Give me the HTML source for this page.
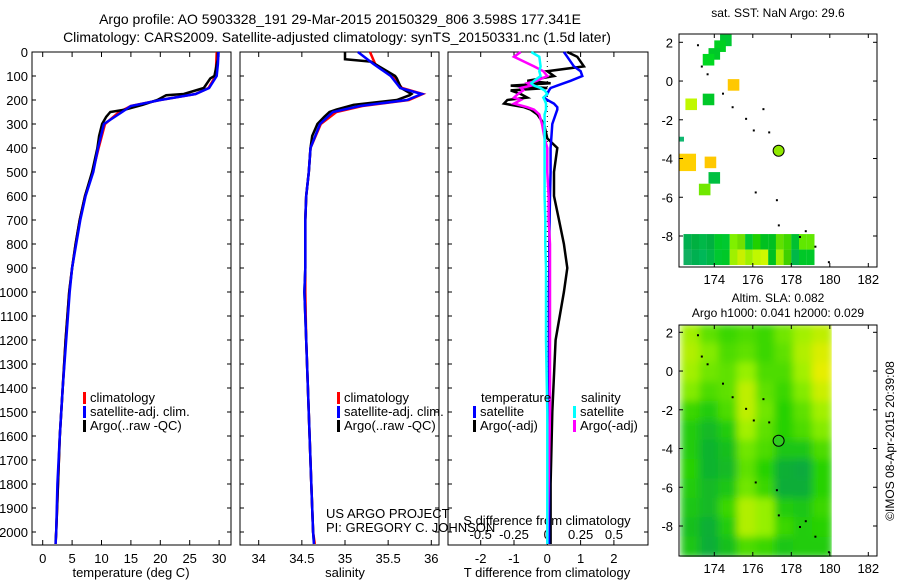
<!DOCTYPE html>
<html><head><meta charset="utf-8"><style>
body{margin:0;background:#fff}
svg{display:block;font-family:"Liberation Sans",sans-serif}
</style></head><body>
<svg id="c" width="900" height="580" viewBox="0 0 900 580" xmlns="http://www.w3.org/2000/svg">
<rect width="900" height="580" fill="#fff"/>
<text x="340" y="24" font-size="14" text-anchor="middle">Argo profile: AO 5903328_191 29-Mar-2015 20150329_806 3.598S 177.341E</text>
<text x="337" y="42" font-size="14" text-anchor="middle">Climatology: CARS2009. Satellite-adjusted climatology: synTS_20150331.nc (1.5d later)</text>
<g id="g"></g>
</svg>
<script>
// ---- data ----
const depthTicks=[0,100,200,300,400,500,600,700,800,900,1000,1100,1200,1300,1400,1500,1600,1700,1800,1900,2000];
const tTicks=[0,5,10,15,20,25,30];
const sTicks=[34,34.5,35,35.5,36];
const tdTicks=[-2,-1,0,1,2];
const sdTicks=[-0.5,-0.25,0,0.25,0.5];
const sdTickLabels=["-0.5","-0.25","0","0.25","0.5"];
const lonTicks=[174,176,178,180,182];
const latTicks=[2,0,-2,-4,-6,-8];

const climDepth=[0,50,100,150,175,200,225,250,300,400,500,600,700,800,900,1000,1200,1400,1600,1800,2000,2050];
const climTemp=[29.6,29.5,29.4,28.2,26,20,15,13,10.6,9.5,8.5,7.2,6.3,5.6,5.0,4.5,3.9,3.4,2.9,2.6,2.3,2.2];
const satTemp=[29.9,29.8,29.6,28.3,26,20,15,13.5,10.4,9.4,8.6,7.3,6.4,5.7,5.0,4.6,4.0,3.4,2.9,2.5,2.3,2.2];
const climSal=[35.29,35.35,35.55,35.66,35.9,35.74,35.2,34.9,34.72,34.6,34.58,34.55,34.54,34.54,34.54,34.54,34.55,34.57,34.59,34.61,34.63,34.65];
const satSal=[35.15,35.33,35.53,35.64,35.89,35.72,35.17,34.86,34.71,34.6,34.58,34.55,34.54,34.54,34.54,34.53,34.55,34.57,34.59,34.61,34.63,34.64];
const argoDepth=[0,30,40,100,110,150,175,180,200,220,240,250,270,300,350,400,500,600,700,800,900,1000,1200,1400,1600,1800,2000,2040];
const argoTemp=[29.8,29.8,29.7,29.2,28.5,27.4,24,21,19.5,17,14,11.5,10.8,10.1,9.6,9.3,8.4,7.2,6.3,5.6,5.0,4.5,3.9,3.4,2.9,2.6,2.3,2.2];
const argoSal=[35.0,35.0,35.3,35.58,35.6,35.65,35.77,35.75,35.6,35.1,34.9,34.82,34.76,34.68,34.62,34.6,34.58,34.55,34.54,34.54,34.54,34.53,34.55,34.57,34.59,34.61,34.63,34.64];

const dDepth=[0,20,60,80,100,120,130,140,150,160,175,190,200,215,230,240,260,300,360,400,500,600,700,800,900,1000,1200,1500,1800,2050];
const satTDiff=[0.5,0.6,0.8,1.0,1.05,0.7,0.5,0.3,0.1,0.05,0.0,-0.1,0.0,0.2,0.3,0.3,0.25,0.15,0.12,0.1,0.1,0.08,0.07,0.06,0.06,0.05,0.05,0.05,0.05,0.05];
const argoTDiff=[0.6,0.9,1.1,0.0,0.2,-0.6,0.1,-1.1,0.0,-1.1,-0.8,-0.6,-1.2,-1.3,-0.7,-0.5,-0.3,-0.1,0.0,0.3,0.2,0.2,0.35,0.5,0.6,0.5,0.25,0.15,0.1,0.1];
const satSDiff=[-0.12,-0.06,-0.05,-0.06,-0.05,-0.1,-0.12,-0.1,-0.05,-0.02,0.0,-0.03,-0.02,-0.01,-0.01,-0.01,-0.02,-0.02,-0.02,-0.02,-0.02,-0.02,-0.015,-0.015,-0.01,-0.01,-0.01,0.0,0.0,0.0];
const argoSDiff=[-0.2,-0.25,-0.1,-0.03,0.0,-0.08,-0.15,-0.12,-0.2,-0.18,-0.22,-0.25,-0.2,-0.25,-0.15,-0.1,-0.06,-0.04,-0.02,0.0,0.0,0.01,0.01,0.02,0.02,0.02,0.02,0.02,0.01,0.0];

// SST map cells: lon, lat, size(deg), colour
const sstLon=[174.6,174.3,174.0,173.7,175.0,172.8,173.7,172.3,172.6,173.8,174.0,173.5];
const sstLat=[2.1,1.8,1.4,1.1,-0.2,-1.2,-0.95,-3.0,-4.2,-4.2,-5.0,-5.6];
const sstSize=[0.6,0.6,0.6,0.6,0.6,0.6,0.6,0.25,0.9,0.6,0.6,0.6];
const sstCol=["#00c832","#00d020","#00c828","#00d820","#ffc800","#c0f800","#00c828","#10b870","#ffd000","#ffc800","#00c040","#70e800"];
const bandLon=[172.4,172.8,173.2,173.6,174.0,174.4,174.8,175.2,175.6,176.0,176.4,176.8,177.2,177.6,178.0,178.4,178.8];
const bandTop=["#00b050","#00b040","#00b848","#00b040","#00c828","#00c830","#80f000","#70e000","#00c830","#20d000","#00c020","#00c020","#60e000","#40d800","#00c030","#60e800","#60e800"];
const bandBot=["#10b060","#00b050","#00b858","#00b848","#00c830","#00c828","#a0f000","#c8f000","#a0f000","#c0f800","#d0f800","#00c020","#a0f000","#40d000","#00b848","#00c828","#00c828"];
// SLA heatmap (rows: lat 2.4 .. -9.6 by 1 deg; cols: lon 172.3 .. 180.1)
const slaGrid=[
[0.75,0.55,0.45,0.5,0.45,0.6,0.75,0.85],
[0.8,0.65,0.5,0.55,0.45,0.55,0.8,0.95],
[0.75,0.6,0.55,0.7,0.5,0.5,0.75,1.0],
[0.65,0.5,0.55,0.85,0.55,0.45,0.65,0.9],
[0.45,0.35,0.5,0.85,0.6,0.4,0.55,0.75],
[0.35,0.2,0.35,0.75,0.55,0.4,0.5,0.65],
[0.35,0.15,0.25,0.6,0.5,0.3,0.3,0.5],
[0.4,0.15,0.2,0.55,0.4,0.12,0.08,0.4],
[0.35,0.2,0.3,0.6,0.45,0.1,0.1,0.4],
[0.3,0.2,0.45,0.8,0.7,0.35,0.3,0.45],
[0.25,0.12,0.35,0.8,0.7,0.45,0.35,0.4],
[0.3,0.1,0.25,0.5,0.45,0.3,0.35,0.35]];
const islandLon=[173.1,173.3,173.6,174.4,174.9,175.6,176.0,176.5,176.8,176.1,177.2,177.3,178.4,178.7,179.2,179.9];
const islandLat=[1.9,0.8,0.4,-0.6,-1.3,-1.9,-2.5,-1.4,-2.6,-5.7,-6.1,-7.4,-8.0,-7.7,-8.5,-9.3];
const argoLon=177.341, argoLat=-3.598;

// ---- helpers ----
const NS="http://www.w3.org/2000/svg";
const G=document.getElementById('g');
function mk(tag,at,parent){const e=document.createElementNS(NS,tag);for(const k in at)e.setAttribute(k,at[k]);(parent||G).appendChild(e);return e;}
function yD(d){return 52+0.24*d;}
function xT(t){return 42.7+5.88*t;}
function xS(s){return 258.7+86.3*(s-34);}
function xTD(v){return 547.3+33.3*v;}
function xSD(v){return 547.3+133.2*v;}
function poly(xs,ys,fx,col,w,name){
  const p=xs.map((v,i)=>fx(v).toFixed(1)+','+yD(ys[i]).toFixed(1)).join(' ');
  const e=mk('polyline',{points:p,fill:'none',stroke:col,'stroke-width':w,'stroke-linejoin':'miter'});
  
  
}
function txt(x,y,s,sz,anchor,name){const e=mk('text',{x:x,y:y,'font-size':sz,'text-anchor':anchor||'start'});e.textContent=s;
  
  return e;}

// profile panels
const panels=[[32,231],[240,439],[448,648]];
panels.forEach((p,i)=>{
  const r=mk('rect',{x:p[0],y:52,width:p[1]-p[0],height:493,fill:'none',stroke:'#000','stroke-width':1});
  
  
});
depthTicks.forEach(d=>{
  const y=yD(d);
  txt(28,y+5,String(d),13,'end','depth-tick-label');
  [0,1,2].forEach(i=>{const p=panels[i];
    if(i<2||d>0){mk('line',{x1:p[0],x2:p[0]+4,y1:y,y2:y,stroke:'#000'});mk('line',{x1:p[1],x2:p[1]-4,y1:y,y2:y,stroke:'#000'});}
  });
});
tTicks.forEach(t=>{const x=xT(t);mk('line',{x1:x,x2:x,y1:52,y2:57,stroke:'#000'});mk('line',{x1:x,x2:x,y1:545,y2:540,stroke:'#000'});
  txt(x,563,String(t),13,'middle','temperature-tick-label');});
sTicks.forEach(s=>{const x=xS(s);mk('line',{x1:x,x2:x,y1:52,y2:57,stroke:'#000'});mk('line',{x1:x,x2:x,y1:545,y2:540,stroke:'#000'});
  txt(x,563,String(s),13,'middle','salinity-tick-label');});
tdTicks.forEach(t=>{const x=xTD(t);mk('line',{x1:x,x2:x,y1:52,y2:57,stroke:'#000'});mk('line',{x1:x,x2:x,y1:545,y2:540,stroke:'#000'});
  txt(x,563,String(t),13,'middle','t-diff-tick-label');});
sdTicks.forEach((t,i)=>{txt(xSD(t),539,sdTickLabels[i],13,'middle','s-diff-tick-label');});
txt(131,577,'temperature (deg C)',13,'middle','temperature-axis-title');
txt(345,577,'salinity',13,'middle','salinity-axis-title');
txt(547,577,'T difference from climatology',13,'middle','t-diff-axis-title');
txt(547,525,'S difference from climatology',13,'middle','s-diff-axis-title');
const z=mk('line',{x1:xTD(0),x2:xTD(0),y1:56,y2:545,stroke:'#000','stroke-dasharray':'1,4'});


poly(climTemp,climDepth,xT,'#f00',2.5,'temp-climatology-line');
poly(argoTemp,argoDepth,xT,'#000',2.5,'temp-argo-line');
poly(satTemp,climDepth,xT,'#00f',2.5,'temp-satellite-line');
poly(climSal,climDepth,xS,'#f00',2.5,'sal-climatology-line');
poly(argoSal,argoDepth,xS,'#000',2.5,'sal-argo-line');
poly(satSal,climDepth,xS,'#00f',2.5,'sal-satellite-line');
poly(argoTDiff,dDepth,xTD,'#000',2.5,'t-diff-argo-line');
poly(satTDiff,dDepth,xTD,'#00f',2.5,'t-diff-satellite-line');
poly(argoSDiff,dDepth,xSD,'#f0f',2.5,'s-diff-argo-line');
poly(satSDiff,dDepth,xSD,'#0ff',2.5,'s-diff-satellite-line');

// legends
function leg(x,y,col,label,name){
  const m=mk('rect',{x:x,y:y-10,width:3,height:12,fill:col});
  
  txt(x+7,y,label,13,'start',name);
}
[[83,'climatology-legend'],[337,'climatology-legend-2']].forEach(a=>{
  leg(a[0],402,'#f00','climatology',a[1]);
  leg(a[0],416,'#00f','satellite-adj. clim.','satellite-adj-legend');
  leg(a[0],430,'#000','Argo(..raw -QC)','argo-raw-legend');
});
txt(481,402,'temperature',13,'start','legend-temperature-header');
leg(473,416,'#00f','satellite','legend-t-satellite');
leg(473,430,'#000','Argo(-adj)','legend-t-argo');
txt(581,402,'salinity',13,'start','legend-salinity-header');
leg(573,416,'#0ff','satellite','legend-s-satellite');
leg(573,430,'#f0f','Argo(-adj)','legend-s-argo');
txt(326,518,'US ARGO PROJECT',13,'start','project-credit');
txt(326,532,'PI: GREGORY C. JOHNSON',13,'start','pi-credit');

// maps
function mLon(l){return 714.3+19.25*(l-174);}
function mkMap(top,latRef){
  const yL=l=>latRef+19.37*(2-l);
  return {y:yL,top:top};
}
const M1=mkMap(34,42.3), M2=mkMap(325,332.3);
sstLon.forEach((l,i)=>{const s=sstSize[i]*19.3;
  const r=mk('rect',{x:mLon(l)-s/2,y:M1.y(sstLat[i])-s/2,width:s,height:s,fill:sstCol[i]});
  });
bandLon.forEach((l,i)=>{
  const r1=mk('rect',{x:mLon(l),y:M1.y(-7.9),width:7.8,height:0.8*19.37,fill:bandTop[i]});
  
  const r2=mk('rect',{x:mLon(l),y:M1.y(-8.7),width:7.8,height:0.8*19.37,fill:bandBot[i]});
  
});
function slaCol(v){
  const stops=[[0,[0,160,75]],[0.4,[40,210,0]],[0.7,[150,240,0]],[1,[230,238,0]]];
  for(let i=1;i<stops.length;i++){
    if(v<=stops[i][0]){const a=stops[i-1],b=stops[i];const t=(v-a[0])/(b[0]-a[0]);
      const c=a[1].map((q,k)=>Math.round(q+(b[1][k]-q)*t));return `rgb(${c[0]},${c[1]},${c[2]})`;}
  }
  return 'rgb(230,238,0)';
}
const defs=mk('defs',{});
const f=mk('filter',{id:'bl',x:'-5%',y:'-5%',width:'110%',height:'110%'},defs);
mk('feGaussianBlur',{stdDeviation:'4'},f);
const cp=mk('clipPath',{id:'cp'},defs);
mk('rect',{x:680,y:M2.y(2.4),width:mLon(180.1)-680,height:M2.y(-9.6)-M2.y(2.4)},cp);
const cg=mk('g',{'clip-path':'url(#cp)'});

const hg=mk('g',{filter:'url(#bl)'},cg);
const cw=(180.1-172.3)/8;
slaGrid.forEach((row,ri)=>row.forEach((v,ci)=>{
  const lat=2.4-ri, lon=172.3+ci*cw;
  const r=mk('rect',{x:mLon(lon)-1,y:M2.y(lat)-1,width:cw*19.25+2,height:19.37+2,fill:slaCol(v)},hg);
  
}));
[M1,M2].forEach((M,mi)=>{
  islandLon.forEach((l,i)=>{const d=mk('rect',{x:mLon(l),y:M.y(islandLat[i]),width:2,height:2,fill:'#000'});
    });
  const c=mk('circle',{cx:mLon(argoLon),cy:M.y(argoLat),r:5.5,fill:mi?'#30cc20':'#90e800',stroke:'#000','stroke-width':1});
  
  const r=mk('rect',{x:679,y:M.top,width:198,height:mi?231:233,fill:'none',stroke:'#000'});
  
  const bot=M.top+(mi?231:233);
  latTicks.forEach(l=>{const y=M.y(l);mk('line',{x1:679,x2:683,y1:y,y2:y,stroke:'#000'});mk('line',{x1:877,x2:873,y1:y,y2:y,stroke:'#000'});
    txt(673,y+5,String(l),13,'end','lat-tick-label');});
  lonTicks.forEach(l=>{const x=mLon(l);mk('line',{x1:x,x2:x,y1:M.top,y2:M.top+4,stroke:'#000'});mk('line',{x1:x,x2:x,y1:bot,y2:bot-4,stroke:'#000'});
    txt(x,bot+17,String(l),13,'middle','lon-tick-label');});
});
txt(778,17,'sat. SST: NaN Argo: 29.6',12,'middle','sst-map-title');
txt(778,302,'Altim. SLA: 0.082',12,'middle','sla-map-title');
txt(778,317,'Argo h1000: 0.041 h2000: 0.029',12,'middle','sla-map-subtitle');
const v=txt(0,0,'©IMOS 08-Apr-2015 20:39:08',12,'middle','timestamp');
v.setAttribute('transform','translate(894,441) rotate(-90)');
</script>
</body></html>
